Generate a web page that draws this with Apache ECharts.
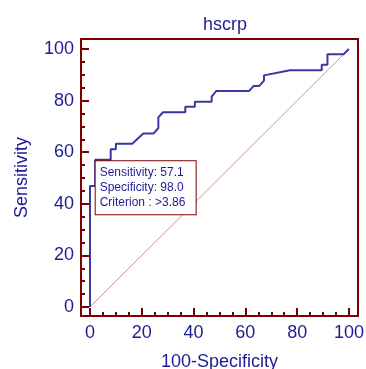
<!DOCTYPE html>
<html>
<head>
<meta charset="utf-8">
<title>hscrp ROC</title>
<script src="https://cdn.jsdelivr.net/npm/echarts@6/dist/echarts.min.js"></script>
<style>
  html, body { margin: 0; padding: 0; background: #fff; }
  #chart { width: 366px; height: 369px; }
</style>
</head>
<body>
<div id="chart"></div>
<script>
// ROC curve points (100-Specificity, Sensitivity)
const fpr = [0, 0, 2, 2, 8, 8, 10, 10, 16.3, 20.6, 24.6, 26.4, 26.4, 28.2, 36.8,
  36.8, 40.5, 40.5, 47, 47, 48.7, 61.4, 63.2, 65.4, 67.2, 67.2, 77.2, 89.5, 89.5,
  91.7, 91.7, 97.9, 100];
const tpr = [0, 46.9, 46.9, 57.1, 57.1, 61.2, 61.2, 63.3, 63.3, 67.3, 67.3, 69.4, 73.5, 75.5, 75.5,
  77.6, 77.6, 79.6, 79.6, 81.6, 83.7, 83.7, 85.7, 85.7, 87.8, 89.8, 91.8, 91.8, 93.9,
  93.9, 98.0, 98.0, 100];

const diagX = [0, 100];
const diagY = [0, 100];

const majorTicks = [0, 20, 40, 60, 80, 100];
const minorTicks = [0, 5, 10, 15, 20, 25, 30, 35, 40, 45, 50, 55, 60, 65, 70, 75, 80, 85, 90, 95, 100];

const cutoff = { sensitivity: 57.1, specificity: 98.0, criterion: '>3.86' };

const AXIS = '#7a0000';
const TEXT = '#1c1c94';
const FONT = '"Liberation Sans", Arial, sans-serif';

function axisPair(isX) {
  const range = isX ? { min: -3.47, max: 103.5 } : { min: -3.49, max: 103.9 };
  const major = {
    type: 'value',
    ...range,
    position: isX ? 'bottom' : 'left',
    name: isX ? '100-Specificity' : 'Sensitivity',
    nameLocation: 'middle',
    nameGap: isX ? 37 : 50,
    nameTextStyle: { color: TEXT, fontSize: 18, fontFamily: FONT },
    axisLine: { show: true, onZero: false, lineStyle: { color: AXIS, width: 2 } },
    axisTick: { show: true, inside: true, length: 8, customValues: majorTicks,
      lineStyle: { color: AXIS, width: 2 } },
    axisLabel: { customValues: majorTicks, color: TEXT, fontSize: 18, fontFamily: FONT,
      margin: isX ? 8 : 7 },
    splitLine: { show: false },
  };
  const minor = {
    type: 'value',
    ...range,
    position: isX ? 'bottom' : 'left',
    axisLine: { show: false, onZero: false },
    axisTick: { show: true, inside: true, length: 4, customValues: minorTicks,
      lineStyle: { color: AXIS, width: 2 } },
    axisLabel: { show: false },
    splitLine: { show: false },
  };
  return [major, minor];
}

const chart = echarts.init(document.getElementById('chart'), null, { renderer: 'canvas' });

chart.setOption({
  animation: false,
  backgroundColor: '#fff',
  title: {
    text: 'hscrp',
    left: 220,
    textAlign: 'center',
    top: 11,
    textStyle: { color: TEXT, fontSize: 18, fontWeight: 'normal', fontFamily: FONT },
  },
  grid: {
    left: 81, top: 39, right: 8, bottom: 53,
    outerBoundsMode: 'none',
    containLabel: false,
    show: true, borderColor: AXIS, borderWidth: 2, backgroundColor: '#fff',
  },
  xAxis: axisPair(true),
  yAxis: axisPair(false),
  series: [
    {
      name: 'reference',
      type: 'line',
      data: diagX.map((x, i) => [x, diagY[i]]),
      showSymbol: false,
      silent: true,
      lineStyle: { color: '#cc9494', width: 1 },
      z: 1,
    },
    {
      name: 'hscrp',
      type: 'line',
      data: fpr.map((x, i) => [x, tpr[i]]),
      showSymbol: false,
      lineStyle: { color: '#3838a4', width: 2 },
      z: 2,
      markPoint: {
        silent: true,
        symbol: 'rect',
        symbolSize: 1,
        itemStyle: { color: 'rgba(0,0,0,0)' },
        data: [{ coord: [100 - cutoff.specificity, cutoff.sensitivity] }],
        label: {
          show: true,
          position: [1, 2],
          align: 'left',
          verticalAlign: 'top',
          formatter: [
            'Sensitivity: ' + cutoff.sensitivity.toFixed(1),
            'Specificity: ' + cutoff.specificity.toFixed(1),
            'Criterion : ' + cutoff.criterion,
          ].join('\n'),
          color: TEXT,
          fontSize: 12,
          lineHeight: 15,
          fontFamily: FONT,
          backgroundColor: '#fff',
          borderColor: AXIS,
          borderWidth: 1,
          padding: [4, 4, 4, 4],
          width: 92,
        },
      },
    },
  ],
});
</script>
</body>
</html>
